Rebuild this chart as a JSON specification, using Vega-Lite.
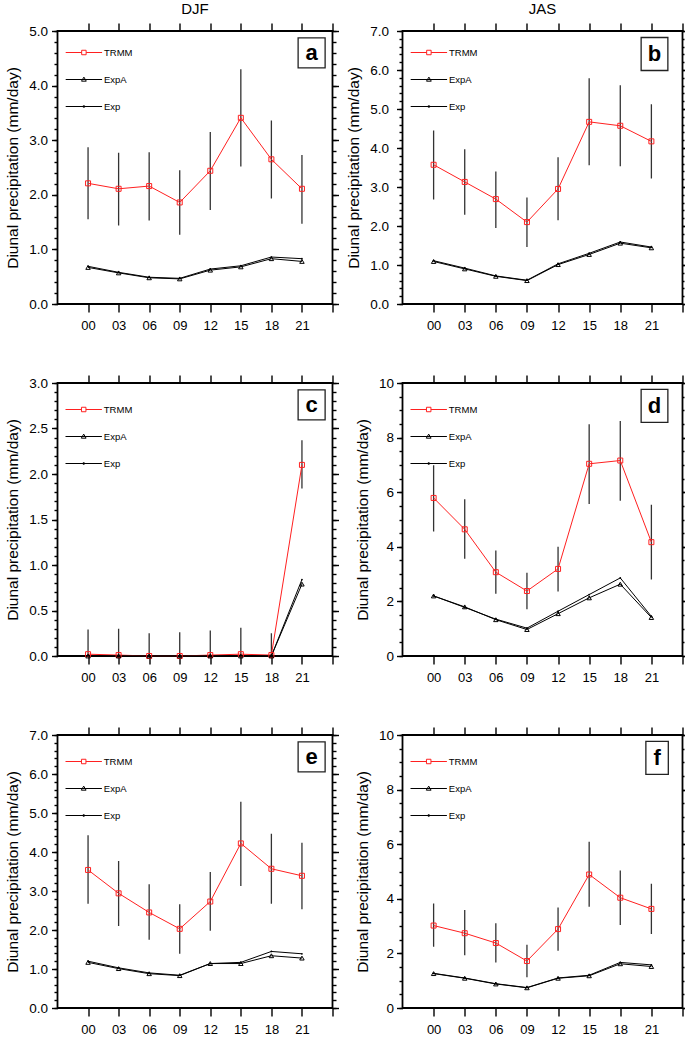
{
"$schema":"https://vega.github.io/schema/vega-lite/v6.json",
"padding":{"left":4.5,"top":1,"right":0,"bottom":0},
"datasets":{
"d":[
{"p":"a","s":"TRMM","h":0,"v":2.21,"lo":1.55,"hi":2.87},{"p":"a","s":"TRMM","h":3,"v":2.11,"lo":1.44,"hi":2.77},{"p":"a","s":"TRMM","h":6,"v":2.16,"lo":1.53,"hi":2.78},{"p":"a","s":"TRMM","h":9,"v":1.86,"lo":1.27,"hi":2.45},{"p":"a","s":"TRMM","h":12,"v":2.44,"lo":1.72,"hi":3.15},{"p":"a","s":"TRMM","h":15,"v":3.41,"lo":2.52,"hi":4.30},{"p":"a","s":"TRMM","h":18,"v":2.65,"lo":1.93,"hi":3.36},{"p":"a","s":"TRMM","h":21,"v":2.11,"lo":1.47,"hi":2.73},
{"p":"a","s":"ExpA","h":0,"v":0.67},{"p":"a","s":"ExpA","h":3,"v":0.57},{"p":"a","s":"ExpA","h":6,"v":0.48},{"p":"a","s":"ExpA","h":9,"v":0.46},{"p":"a","s":"ExpA","h":12,"v":0.62},{"p":"a","s":"ExpA","h":15,"v":0.68},{"p":"a","s":"ExpA","h":18,"v":0.83},{"p":"a","s":"ExpA","h":21,"v":0.78},
{"p":"a","s":"Exp","h":0,"v":0.69},{"p":"a","s":"Exp","h":3,"v":0.58},{"p":"a","s":"Exp","h":6,"v":0.49},{"p":"a","s":"Exp","h":9,"v":0.47},{"p":"a","s":"Exp","h":12,"v":0.64},{"p":"a","s":"Exp","h":15,"v":0.70},{"p":"a","s":"Exp","h":18,"v":0.86},{"p":"a","s":"Exp","h":21,"v":0.83},
{"p":"b","s":"TRMM","h":0,"v":3.57,"lo":2.68,"hi":4.45},{"p":"b","s":"TRMM","h":3,"v":3.13,"lo":2.29,"hi":3.97},{"p":"b","s":"TRMM","h":6,"v":2.69,"lo":1.95,"hi":3.40},{"p":"b","s":"TRMM","h":9,"v":2.10,"lo":1.46,"hi":2.73},{"p":"b","s":"TRMM","h":12,"v":2.95,"lo":2.15,"hi":3.76},{"p":"b","s":"TRMM","h":15,"v":4.67,"lo":3.56,"hi":5.79},{"p":"b","s":"TRMM","h":18,"v":4.57,"lo":3.53,"hi":5.61},{"p":"b","s":"TRMM","h":21,"v":4.17,"lo":3.22,"hi":5.12},
{"p":"b","s":"ExpA","h":0,"v":1.09},{"p":"b","s":"ExpA","h":3,"v":0.90},{"p":"b","s":"ExpA","h":6,"v":0.71},{"p":"b","s":"ExpA","h":9,"v":0.60},{"p":"b","s":"ExpA","h":12,"v":1.01},{"p":"b","s":"ExpA","h":15,"v":1.27},{"p":"b","s":"ExpA","h":18,"v":1.56},{"p":"b","s":"ExpA","h":21,"v":1.44},
{"p":"b","s":"Exp","h":0,"v":1.11},{"p":"b","s":"Exp","h":3,"v":0.92},{"p":"b","s":"Exp","h":6,"v":0.72},{"p":"b","s":"Exp","h":9,"v":0.61},{"p":"b","s":"Exp","h":12,"v":1.03},{"p":"b","s":"Exp","h":15,"v":1.30},{"p":"b","s":"Exp","h":18,"v":1.59},{"p":"b","s":"Exp","h":21,"v":1.46},
{"p":"c","s":"TRMM","h":0,"v":0.02,"lo":-0.26,"hi":0.29},{"p":"c","s":"TRMM","h":3,"v":0.01,"lo":-0.28,"hi":0.30},{"p":"c","s":"TRMM","h":6,"v":0.0,"lo":-0.25,"hi":0.25},{"p":"c","s":"TRMM","h":9,"v":0.0,"lo":-0.26,"hi":0.26},{"p":"c","s":"TRMM","h":12,"v":0.01,"lo":-0.26,"hi":0.28},{"p":"c","s":"TRMM","h":15,"v":0.02,"lo":-0.27,"hi":0.31},{"p":"c","s":"TRMM","h":18,"v":0.01,"lo":-0.23,"hi":0.25},{"p":"c","s":"TRMM","h":21,"v":2.10,"lo":1.84,"hi":2.37},
{"p":"c","s":"ExpA","h":0,"v":0.0},{"p":"c","s":"ExpA","h":3,"v":0.0},{"p":"c","s":"ExpA","h":6,"v":0.0},{"p":"c","s":"ExpA","h":9,"v":0.0},{"p":"c","s":"ExpA","h":12,"v":0.0},{"p":"c","s":"ExpA","h":15,"v":0.0},{"p":"c","s":"ExpA","h":18,"v":0.0},{"p":"c","s":"ExpA","h":21,"v":0.79},
{"p":"c","s":"Exp","h":0,"v":0.0},{"p":"c","s":"Exp","h":3,"v":0.0},{"p":"c","s":"Exp","h":6,"v":0.0},{"p":"c","s":"Exp","h":9,"v":0.0},{"p":"c","s":"Exp","h":12,"v":0.0},{"p":"c","s":"Exp","h":15,"v":0.0},{"p":"c","s":"Exp","h":18,"v":0.0},{"p":"c","s":"Exp","h":21,"v":0.84},
{"p":"d","s":"TRMM","h":0,"v":5.79,"lo":4.56,"hi":6.99},{"p":"d","s":"TRMM","h":3,"v":4.64,"lo":3.56,"hi":5.74},{"p":"d","s":"TRMM","h":6,"v":3.07,"lo":2.28,"hi":3.86},{"p":"d","s":"TRMM","h":9,"v":2.38,"lo":1.71,"hi":3.05},{"p":"d","s":"TRMM","h":12,"v":3.19,"lo":2.36,"hi":4.00},{"p":"d","s":"TRMM","h":15,"v":7.04,"lo":5.57,"hi":8.49},{"p":"d","s":"TRMM","h":18,"v":7.16,"lo":5.69,"hi":8.61},{"p":"d","s":"TRMM","h":21,"v":4.17,"lo":2.80,"hi":5.54},
{"p":"d","s":"ExpA","h":0,"v":2.20},{"p":"d","s":"ExpA","h":3,"v":1.80},{"p":"d","s":"ExpA","h":6,"v":1.33},{"p":"d","s":"ExpA","h":9,"v":0.97},{"p":"d","s":"ExpA","h":12,"v":1.55},{"p":"d","s":"ExpA","h":15,"v":2.13},{"p":"d","s":"ExpA","h":18,"v":2.63},{"p":"d","s":"ExpA","h":21,"v":1.41},
{"p":"d","s":"Exp","h":0,"v":2.20},{"p":"d","s":"Exp","h":3,"v":1.78},{"p":"d","s":"Exp","h":6,"v":1.35},{"p":"d","s":"Exp","h":9,"v":1.02},{"p":"d","s":"Exp","h":12,"v":1.64},{"p":"d","s":"Exp","h":15,"v":2.25},{"p":"d","s":"Exp","h":18,"v":2.86},{"p":"d","s":"Exp","h":21,"v":1.45},
{"p":"e","s":"TRMM","h":0,"v":3.54,"lo":2.67,"hi":4.43},{"p":"e","s":"TRMM","h":3,"v":2.94,"lo":2.10,"hi":3.77},{"p":"e","s":"TRMM","h":6,"v":2.45,"lo":1.75,"hi":3.17},{"p":"e","s":"TRMM","h":9,"v":2.03,"lo":1.39,"hi":2.66},{"p":"e","s":"TRMM","h":12,"v":2.73,"lo":1.98,"hi":3.49},{"p":"e","s":"TRMM","h":15,"v":4.22,"lo":3.13,"hi":5.29},{"p":"e","s":"TRMM","h":18,"v":3.57,"lo":2.67,"hi":4.47},{"p":"e","s":"TRMM","h":21,"v":3.39,"lo":2.53,"hi":4.24},
{"p":"e","s":"ExpA","h":0,"v":1.17},{"p":"e","s":"ExpA","h":3,"v":1.01},{"p":"e","s":"ExpA","h":6,"v":0.88},{"p":"e","s":"ExpA","h":9,"v":0.83},{"p":"e","s":"ExpA","h":12,"v":1.14},{"p":"e","s":"ExpA","h":15,"v":1.14},{"p":"e","s":"ExpA","h":18,"v":1.34},{"p":"e","s":"ExpA","h":21,"v":1.28},
{"p":"e","s":"Exp","h":0,"v":1.20},{"p":"e","s":"Exp","h":3,"v":1.03},{"p":"e","s":"Exp","h":6,"v":0.90},{"p":"e","s":"Exp","h":9,"v":0.84},{"p":"e","s":"Exp","h":12,"v":1.14},{"p":"e","s":"Exp","h":15,"v":1.17},{"p":"e","s":"Exp","h":18,"v":1.45},{"p":"e","s":"Exp","h":21,"v":1.39},
{"p":"f","s":"TRMM","h":0,"v":3.02,"lo":2.24,"hi":3.83},{"p":"f","s":"TRMM","h":3,"v":2.74,"lo":1.93,"hi":3.59},{"p":"f","s":"TRMM","h":6,"v":2.38,"lo":1.67,"hi":3.10},{"p":"f","s":"TRMM","h":9,"v":1.72,"lo":1.13,"hi":2.32},{"p":"f","s":"TRMM","h":12,"v":2.89,"lo":2.10,"hi":3.68},{"p":"f","s":"TRMM","h":15,"v":4.89,"lo":3.71,"hi":6.09},{"p":"f","s":"TRMM","h":18,"v":4.04,"lo":3.04,"hi":5.04},{"p":"f","s":"TRMM","h":21,"v":3.63,"lo":2.71,"hi":4.55},
{"p":"f","s":"ExpA","h":0,"v":1.26},{"p":"f","s":"ExpA","h":3,"v":1.09},{"p":"f","s":"ExpA","h":6,"v":0.88},{"p":"f","s":"ExpA","h":9,"v":0.74},{"p":"f","s":"ExpA","h":12,"v":1.09},{"p":"f","s":"ExpA","h":15,"v":1.18},{"p":"f","s":"ExpA","h":18,"v":1.62},{"p":"f","s":"ExpA","h":21,"v":1.52},
{"p":"f","s":"Exp","h":0,"v":1.27},{"p":"f","s":"Exp","h":3,"v":1.10},{"p":"f","s":"Exp","h":6,"v":0.89},{"p":"f","s":"Exp","h":9,"v":0.75},{"p":"f","s":"Exp","h":12,"v":1.10},{"p":"f","s":"Exp","h":15,"v":1.20},{"p":"f","s":"Exp","h":18,"v":1.67},{"p":"f","s":"Exp","h":21,"v":1.58}
],
"lab":[{"p":"a","lab":"a"},{"p":"b","lab":"b"},{"p":"c","lab":"c"},{"p":"d","lab":"d"},{"p":"e","lab":"e"},{"p":"f","lab":"f"}]
},
"columns":2,
"spacing":{"row":79,"column":70},
"bounds":"flush",
"align":"each",
"concat":[
{
"width":275,"height":273,
"title":{"text":"DJF","fontSize":15,"fontWeight":"normal","offset":5},
"layer":[
{"data":{"name":"d"},"transform":[{"filter":"datum.p == 'a' && datum.s == 'TRMM'"}],
 "mark":{"type":"rule","color":"#333333","strokeWidth":1.3,"clip":true},
 "encoding":{
  "x":{"field":"h","type":"quantitative","scale":{"domain":[-3,24],"nice":false,"zero":false},"axis":{"orient":"bottom","values":[0,3,6,9,12,15,18,21,24],"labelExpr":"datum.value < 24 ? (datum.value < 10 ? '0' + datum.value : '' + datum.value) : ''","tickSize":8,"labelPadding":7,"labelFontSize":13,"title":null}},
  "y":{"field":"lo","type":"quantitative","scale":{"domain":[0,5],"nice":false,"zero":false},"axis":{"orient":"left","values":[0,1,2,3,4,5],"format":".1f","labelPadding":4,"title":"Diunal precipitation (mm/day)"}},
  "y2":{"field":"hi"}}},
{"data":{"name":"d"},"transform":[{"filter":"datum.p == 'a'"}],
 "mark":{"type":"line","strokeWidth":1},
 "encoding":{
  "x":{"field":"h","type":"quantitative","axis":{"orient":"top","values":[0,3,6,9,12,15,18,21,24],"labels":false,"tickSize":8,"title":null}},
  "y":{"field":"v","type":"quantitative","axis":{"orient":"left","values":[0,0.2,0.4,0.6,0.8,1,1.2,1.4,1.6,1.8,2,2.2,2.4,2.6,2.8,3,3.2,3.4,3.6,3.8,4,4.2,4.4,4.6,4.8,5],"labels":false,"tickSize":3.5,"title":null}},
  "color":{"field":"s","type":"nominal","scale":{"domain":["TRMM","ExpA","Exp"],"range":["#ff2020","#000000","#000000"]},"legend":{"title":null,"offset":6.8,"symbolOffset":4.9,"symbolSize":784,"rowPadding":8,"labelOffset":5.6,"encode":{"symbols":{"update":{"size":{"value":784},"shape":{"signal":"datum.value == 'TRMM' ? 'M-1.3,0H-0.16M0.16,0H1.3M-0.16,-0.16H0.16V0.16H-0.16Z' : (datum.value == 'ExpA' ? 'M-1.3,0H1.3M0,-0.17L0.17,0.12H-0.17Z' : 'M-1.3,0H1.3M-0.05,-0.05H0.05V0.05H-0.05Z')"},"fill":{"value":"transparent"},"strokeWidth":{"value":1}}}}}}}},
{"data":{"name":"d"},"transform":[{"filter":"datum.p == 'a' && datum.s == 'TRMM'"}],
 "mark":{"type":"point","shape":"square","filled":false,"color":"#ff2020","size":25,"strokeWidth":1,"opacity":1},
 "encoding":{"x":{"field":"h","type":"quantitative","axis":null},"y":{"field":"v","type":"quantitative","axis":{"orient":"right","values":[0,1,2,3,4,5],"labels":false,"tickSize":6,"title":null}}}},
{"data":{"name":"d"},"transform":[{"filter":"datum.p == 'a' && datum.s == 'ExpA'"}],
 "mark":{"type":"point","shape":"triangle-up","filled":false,"color":"#000000","size":20,"strokeWidth":1,"opacity":1},
 "encoding":{"x":{"field":"h","type":"quantitative","axis":null},"y":{"field":"v","type":"quantitative","axis":{"orient":"right","values":[0,0.2,0.4,0.6,0.8,1,1.2,1.4,1.6,1.8,2,2.2,2.4,2.6,2.8,3,3.2,3.4,3.6,3.8,4,4.2,4.4,4.6,4.8,5],"labels":false,"tickSize":3.5,"title":null}}}},
{"data":{"name":"d"},"transform":[{"filter":"datum.p == 'a' && datum.s == 'Exp'"}],
 "mark":{"type":"point","shape":"circle","filled":true,"color":"#000000","size":3,"opacity":1},
 "encoding":{"x":{"field":"h","type":"quantitative","axis":null},"y":{"field":"v","type":"quantitative","axis":null}}},
{"data":{"name":"lab"},"transform":[{"filter":"datum.p == 'a'"}],
 "mark":{"type":"point","shape":"M-0.9,-1H0.9V1H-0.9Z","filled":false,"color":"#222222","strokeWidth":1.3,"size":900,"opacity":1},
 "encoding":{"x":{"datum":21.95,"type":"quantitative","axis":null},"y":{"datum":4.6,"type":"quantitative","axis":null}}},
{"data":{"name":"lab"},"transform":[{"filter":"datum.p == 'a'"}],
 "mark":{"type":"text","fontSize":22,"fontWeight":"bold","baseline":"middle","align":"center","color":"#000000"},
 "encoding":{"text":{"field":"lab"},"x":{"datum":21.95,"type":"quantitative","axis":null},"y":{"datum":4.6,"type":"quantitative","axis":null}}}
],
"resolve":{"axis":{"x":"independent","y":"independent"}}
},
{
"width":280,"height":273,
"title":{"text":"JAS","fontSize":15,"fontWeight":"normal","offset":5},
"layer":[
{"data":{"name":"d"},"transform":[{"filter":"datum.p == 'b' && datum.s == 'TRMM'"}],
 "mark":{"type":"rule","color":"#333333","strokeWidth":1.3,"clip":true},
 "encoding":{
  "x":{"field":"h","type":"quantitative","scale":{"domain":[-3,24],"nice":false,"zero":false},"axis":{"orient":"bottom","values":[0,3,6,9,12,15,18,21,24],"labelExpr":"datum.value < 24 ? (datum.value < 10 ? '0' + datum.value : '' + datum.value) : ''","tickSize":8,"labelPadding":7,"labelFontSize":13,"title":null}},
  "y":{"field":"lo","type":"quantitative","scale":{"domain":[0,7],"nice":false,"zero":false},"axis":{"orient":"left","values":[0,1,2,3,4,5,6,7],"format":".1f","labelPadding":8,"title":"Diunal precipitation (mm/day)"}},
  "y2":{"field":"hi"}}},
{"data":{"name":"d"},"transform":[{"filter":"datum.p == 'b'"}],
 "mark":{"type":"line","strokeWidth":1},
 "encoding":{
  "x":{"field":"h","type":"quantitative","axis":{"orient":"top","values":[0,3,6,9,12,15,18,21,24],"labels":false,"tickSize":8,"title":null}},
  "y":{"field":"v","type":"quantitative","axis":{"orient":"left","values":[0,0.2,0.4,0.6,0.8,1,1.2,1.4,1.6,1.8,2,2.2,2.4,2.6,2.8,3,3.2,3.4,3.6,3.8,4,4.2,4.4,4.6,4.8,5,5.2,5.4,5.6,5.8,6,6.2,6.4,6.6,6.8,7],"labels":false,"tickSize":3.5,"title":null}},
  "color":{"field":"s","type":"nominal","scale":{"domain":["TRMM","ExpA","Exp"],"range":["#ff2020","#000000","#000000"]},"legend":{"title":null,"offset":6.8,"symbolOffset":4.9,"symbolSize":784,"rowPadding":8,"labelOffset":5.6,"encode":{"symbols":{"update":{"size":{"value":784},"shape":{"signal":"datum.value == 'TRMM' ? 'M-1.3,0H-0.16M0.16,0H1.3M-0.16,-0.16H0.16V0.16H-0.16Z' : (datum.value == 'ExpA' ? 'M-1.3,0H1.3M0,-0.17L0.17,0.12H-0.17Z' : 'M-1.3,0H1.3M-0.05,-0.05H0.05V0.05H-0.05Z')"},"fill":{"value":"transparent"},"strokeWidth":{"value":1}}}}}}}},
{"data":{"name":"d"},"transform":[{"filter":"datum.p == 'b' && datum.s == 'TRMM'"}],
 "mark":{"type":"point","shape":"square","filled":false,"color":"#ff2020","size":25,"strokeWidth":1,"opacity":1},
 "encoding":{"x":{"field":"h","type":"quantitative","axis":null},"y":{"field":"v","type":"quantitative","axis":{"orient":"right","values":[0,1,2,3,4,5,6,7],"labels":false,"tickSize":2,"title":null}}}},
{"data":{"name":"d"},"transform":[{"filter":"datum.p == 'b' && datum.s == 'ExpA'"}],
 "mark":{"type":"point","shape":"triangle-up","filled":false,"color":"#000000","size":20,"strokeWidth":1,"opacity":1},
 "encoding":{"x":{"field":"h","type":"quantitative","axis":null},"y":{"field":"v","type":"quantitative","axis":{"orient":"right","values":[0,0.2,0.4,0.6,0.8,1,1.2,1.4,1.6,1.8,2,2.2,2.4,2.6,2.8,3,3.2,3.4,3.6,3.8,4,4.2,4.4,4.6,4.8,5,5.2,5.4,5.6,5.8,6,6.2,6.4,6.6,6.8,7],"labels":false,"tickSize":1.5,"title":null}}}},
{"data":{"name":"d"},"transform":[{"filter":"datum.p == 'b' && datum.s == 'Exp'"}],
 "mark":{"type":"point","shape":"circle","filled":true,"color":"#000000","size":3,"opacity":1},
 "encoding":{"x":{"field":"h","type":"quantitative","axis":null},"y":{"field":"v","type":"quantitative","axis":null}}},
{"data":{"name":"lab"},"transform":[{"filter":"datum.p == 'b'"}],
 "mark":{"type":"point","shape":"M-0.81,-1H0.81V1H-0.81Z","filled":false,"color":"#222222","strokeWidth":1.3,"size":1089,"opacity":1},
 "encoding":{"x":{"datum":21.3,"type":"quantitative","axis":null},"y":{"datum":6.41,"type":"quantitative","axis":null}}},
{"data":{"name":"lab"},"transform":[{"filter":"datum.p == 'b'"}],
 "mark":{"type":"text","fontSize":22,"fontWeight":"bold","baseline":"middle","align":"center","color":"#000000"},
 "encoding":{"text":{"field":"lab"},"x":{"datum":21.3,"type":"quantitative","axis":null},"y":{"datum":6.41,"type":"quantitative","axis":null}}}
],
"resolve":{"axis":{"x":"independent","y":"independent"}}
},
{
"width":275,"height":273,
"layer":[
{"data":{"name":"d"},"transform":[{"filter":"datum.p == 'c' && datum.s == 'TRMM'"}],
 "mark":{"type":"rule","color":"#333333","strokeWidth":1.3,"clip":true},
 "encoding":{
  "x":{"field":"h","type":"quantitative","scale":{"domain":[-3,24],"nice":false,"zero":false},"axis":{"orient":"bottom","values":[0,3,6,9,12,15,18,21,24],"labelExpr":"datum.value < 24 ? (datum.value < 10 ? '0' + datum.value : '' + datum.value) : ''","tickSize":8,"labelPadding":7,"labelFontSize":13,"title":null}},
  "y":{"field":"lo","type":"quantitative","scale":{"domain":[0,3],"nice":false,"zero":false},"axis":{"orient":"left","values":[0,0.5,1,1.5,2,2.5,3],"format":".1f","labelPadding":4,"title":"Diunal precipitation (mm/day)"}},
  "y2":{"field":"hi"}}},
{"data":{"name":"d"},"transform":[{"filter":"datum.p == 'c'"}],
 "mark":{"type":"line","strokeWidth":1},
 "encoding":{
  "x":{"field":"h","type":"quantitative","axis":{"orient":"top","values":[0,3,6,9,12,15,18,21,24],"labels":false,"tickSize":8,"title":null}},
  "y":{"field":"v","type":"quantitative","axis":{"orient":"left","values":[0,0.1,0.2,0.3,0.4,0.5,0.6,0.7,0.8,0.9,1,1.1,1.2,1.3,1.4,1.5,1.6,1.7,1.8,1.9,2,2.1,2.2,2.3,2.4,2.5,2.6,2.7,2.8,2.9,3],"labels":false,"tickSize":3.5,"title":null}},
  "color":{"field":"s","type":"nominal","scale":{"domain":["TRMM","ExpA","Exp"],"range":["#ff2020","#000000","#000000"]},"legend":{"title":null,"offset":12,"symbolOffset":-0.3,"symbolSize":784,"rowPadding":8,"labelOffset":5.6,"encode":{"symbols":{"update":{"size":{"value":784},"shape":{"signal":"datum.value == 'TRMM' ? 'M-1.3,0H-0.16M0.16,0H1.3M-0.16,-0.16H0.16V0.16H-0.16Z' : (datum.value == 'ExpA' ? 'M-1.3,0H1.3M0,-0.17L0.17,0.12H-0.17Z' : 'M-1.3,0H1.3M-0.05,-0.05H0.05V0.05H-0.05Z')"},"fill":{"value":"transparent"},"strokeWidth":{"value":1}}}}}}}},
{"data":{"name":"d"},"transform":[{"filter":"datum.p == 'c' && datum.s == 'TRMM'"}],
 "mark":{"type":"point","shape":"square","filled":false,"color":"#ff2020","size":25,"strokeWidth":1,"opacity":1},
 "encoding":{"x":{"field":"h","type":"quantitative","axis":null},"y":{"field":"v","type":"quantitative","axis":{"orient":"right","values":[0,0.5,1,1.5,2,2.5,3],"labels":false,"tickSize":6,"title":null}}}},
{"data":{"name":"d"},"transform":[{"filter":"datum.p == 'c' && datum.s == 'ExpA'"}],
 "mark":{"type":"point","shape":"triangle-up","filled":false,"color":"#000000","size":20,"strokeWidth":1,"opacity":1},
 "encoding":{"x":{"field":"h","type":"quantitative","axis":null},"y":{"field":"v","type":"quantitative","axis":{"orient":"right","values":[0,0.1,0.2,0.3,0.4,0.5,0.6,0.7,0.8,0.9,1,1.1,1.2,1.3,1.4,1.5,1.6,1.7,1.8,1.9,2,2.1,2.2,2.3,2.4,2.5,2.6,2.7,2.8,2.9,3],"labels":false,"tickSize":3.5,"title":null}}}},
{"data":{"name":"d"},"transform":[{"filter":"datum.p == 'c' && datum.s == 'Exp'"}],
 "mark":{"type":"point","shape":"circle","filled":true,"color":"#000000","size":3,"opacity":1},
 "encoding":{"x":{"field":"h","type":"quantitative","axis":null},"y":{"field":"v","type":"quantitative","axis":null}}},
{"data":{"name":"lab"},"transform":[{"filter":"datum.p == 'c'"}],
 "mark":{"type":"point","shape":"M-0.9,-1H0.9V1H-0.9Z","filled":false,"color":"#222222","strokeWidth":1.3,"size":900,"opacity":1},
 "encoding":{"x":{"datum":21.95,"type":"quantitative","axis":null},"y":{"datum":2.76,"type":"quantitative","axis":null}}},
{"data":{"name":"lab"},"transform":[{"filter":"datum.p == 'c'"}],
 "mark":{"type":"text","fontSize":22,"fontWeight":"bold","baseline":"middle","align":"center","color":"#000000"},
 "encoding":{"text":{"field":"lab"},"x":{"datum":21.95,"type":"quantitative","axis":null},"y":{"datum":2.76,"type":"quantitative","axis":null}}}
],
"resolve":{"axis":{"x":"independent","y":"independent"}}
},
{
"width":280,"height":273,
"layer":[
{"data":{"name":"d"},"transform":[{"filter":"datum.p == 'd' && datum.s == 'TRMM'"}],
 "mark":{"type":"rule","color":"#333333","strokeWidth":1.3,"clip":true},
 "encoding":{
  "x":{"field":"h","type":"quantitative","scale":{"domain":[-3,24],"nice":false,"zero":false},"axis":{"orient":"bottom","values":[0,3,6,9,12,15,18,21,24],"labelExpr":"datum.value < 24 ? (datum.value < 10 ? '0' + datum.value : '' + datum.value) : ''","tickSize":8,"labelPadding":7,"labelFontSize":13,"title":null}},
  "y":{"field":"lo","type":"quantitative","scale":{"domain":[0,10],"nice":false,"zero":false},"axis":{"orient":"left","values":[0,2,4,6,8,10],"format":"d","labelPadding":3,"title":"Diunal precipitation (mm/day)"}},
  "y2":{"field":"hi"}}},
{"data":{"name":"d"},"transform":[{"filter":"datum.p == 'd'"}],
 "mark":{"type":"line","strokeWidth":1},
 "encoding":{
  "x":{"field":"h","type":"quantitative","axis":{"orient":"top","values":[0,3,6,9,12,15,18,21,24],"labels":false,"tickSize":8,"title":null}},
  "y":{"field":"v","type":"quantitative","axis":{"orient":"left","values":[0,0.5,1,1.5,2,2.5,3,3.5,4,4.5,5,5.5,6,6.5,7,7.5,8,8.5,9,9.5,10],"labels":false,"tickSize":3.5,"title":null}},
  "color":{"field":"s","type":"nominal","scale":{"domain":["TRMM","ExpA","Exp"],"range":["#ff2020","#000000","#000000"]},"legend":{"title":null,"offset":12,"symbolOffset":-0.3,"symbolSize":784,"rowPadding":8,"labelOffset":5.6,"encode":{"symbols":{"update":{"size":{"value":784},"shape":{"signal":"datum.value == 'TRMM' ? 'M-1.3,0H-0.16M0.16,0H1.3M-0.16,-0.16H0.16V0.16H-0.16Z' : (datum.value == 'ExpA' ? 'M-1.3,0H1.3M0,-0.17L0.17,0.12H-0.17Z' : 'M-1.3,0H1.3M-0.05,-0.05H0.05V0.05H-0.05Z')"},"fill":{"value":"transparent"},"strokeWidth":{"value":1}}}}}}}},
{"data":{"name":"d"},"transform":[{"filter":"datum.p == 'd' && datum.s == 'TRMM'"}],
 "mark":{"type":"point","shape":"square","filled":false,"color":"#ff2020","size":25,"strokeWidth":1,"opacity":1},
 "encoding":{"x":{"field":"h","type":"quantitative","axis":null},"y":{"field":"v","type":"quantitative","axis":{"orient":"right","values":[0,2,4,6,8,10],"labels":false,"tickSize":2,"title":null}}}},
{"data":{"name":"d"},"transform":[{"filter":"datum.p == 'd' && datum.s == 'ExpA'"}],
 "mark":{"type":"point","shape":"triangle-up","filled":false,"color":"#000000","size":20,"strokeWidth":1,"opacity":1},
 "encoding":{"x":{"field":"h","type":"quantitative","axis":null},"y":{"field":"v","type":"quantitative","axis":{"orient":"right","values":[0,0.5,1,1.5,2,2.5,3,3.5,4,4.5,5,5.5,6,6.5,7,7.5,8,8.5,9,9.5,10],"labels":false,"tickSize":1.5,"title":null}}}},
{"data":{"name":"d"},"transform":[{"filter":"datum.p == 'd' && datum.s == 'Exp'"}],
 "mark":{"type":"point","shape":"circle","filled":true,"color":"#000000","size":3,"opacity":1},
 "encoding":{"x":{"field":"h","type":"quantitative","axis":null},"y":{"field":"v","type":"quantitative","axis":null}}},
{"data":{"name":"lab"},"transform":[{"filter":"datum.p == 'd'"}],
 "mark":{"type":"point","shape":"M-0.81,-1H0.81V1H-0.81Z","filled":false,"color":"#222222","strokeWidth":1.3,"size":1089,"opacity":1},
 "encoding":{"x":{"datum":21.3,"type":"quantitative","axis":null},"y":{"datum":9.16,"type":"quantitative","axis":null}}},
{"data":{"name":"lab"},"transform":[{"filter":"datum.p == 'd'"}],
 "mark":{"type":"text","fontSize":22,"fontWeight":"bold","baseline":"middle","align":"center","color":"#000000"},
 "encoding":{"text":{"field":"lab"},"x":{"datum":21.3,"type":"quantitative","axis":null},"y":{"datum":9.16,"type":"quantitative","axis":null}}}
],
"resolve":{"axis":{"x":"independent","y":"independent"}}
},
{
"width":275,"height":273,
"layer":[
{"data":{"name":"d"},"transform":[{"filter":"datum.p == 'e' && datum.s == 'TRMM'"}],
 "mark":{"type":"rule","color":"#333333","strokeWidth":1.3,"clip":true},
 "encoding":{
  "x":{"field":"h","type":"quantitative","scale":{"domain":[-3,24],"nice":false,"zero":false},"axis":{"orient":"bottom","values":[0,3,6,9,12,15,18,21,24],"labelExpr":"datum.value < 24 ? (datum.value < 10 ? '0' + datum.value : '' + datum.value) : ''","tickSize":8,"labelPadding":7,"labelFontSize":13,"title":null}},
  "y":{"field":"lo","type":"quantitative","scale":{"domain":[0,7],"nice":false,"zero":false},"axis":{"orient":"left","values":[0,1,2,3,4,5,6,7],"format":".1f","labelPadding":4,"title":"Diunal precipitation (mm/day)"}},
  "y2":{"field":"hi"}}},
{"data":{"name":"d"},"transform":[{"filter":"datum.p == 'e'"}],
 "mark":{"type":"line","strokeWidth":1},
 "encoding":{
  "x":{"field":"h","type":"quantitative","axis":{"orient":"top","values":[0,3,6,9,12,15,18,21,24],"labels":false,"tickSize":8,"title":null}},
  "y":{"field":"v","type":"quantitative","axis":{"orient":"left","values":[0,0.2,0.4,0.6,0.8,1,1.2,1.4,1.6,1.8,2,2.2,2.4,2.6,2.8,3,3.2,3.4,3.6,3.8,4,4.2,4.4,4.6,4.8,5,5.2,5.4,5.6,5.8,6,6.2,6.4,6.6,6.8,7],"labels":false,"tickSize":3.5,"title":null}},
  "color":{"field":"s","type":"nominal","scale":{"domain":["TRMM","ExpA","Exp"],"range":["#ff2020","#000000","#000000"]},"legend":{"title":null,"offset":12,"symbolOffset":-0.3,"symbolSize":784,"rowPadding":8,"labelOffset":5.6,"encode":{"symbols":{"update":{"size":{"value":784},"shape":{"signal":"datum.value == 'TRMM' ? 'M-1.3,0H-0.16M0.16,0H1.3M-0.16,-0.16H0.16V0.16H-0.16Z' : (datum.value == 'ExpA' ? 'M-1.3,0H1.3M0,-0.17L0.17,0.12H-0.17Z' : 'M-1.3,0H1.3M-0.05,-0.05H0.05V0.05H-0.05Z')"},"fill":{"value":"transparent"},"strokeWidth":{"value":1}}}}}}}},
{"data":{"name":"d"},"transform":[{"filter":"datum.p == 'e' && datum.s == 'TRMM'"}],
 "mark":{"type":"point","shape":"square","filled":false,"color":"#ff2020","size":25,"strokeWidth":1,"opacity":1},
 "encoding":{"x":{"field":"h","type":"quantitative","axis":null},"y":{"field":"v","type":"quantitative","axis":{"orient":"right","values":[0,1,2,3,4,5,6,7],"labels":false,"tickSize":6,"title":null}}}},
{"data":{"name":"d"},"transform":[{"filter":"datum.p == 'e' && datum.s == 'ExpA'"}],
 "mark":{"type":"point","shape":"triangle-up","filled":false,"color":"#000000","size":20,"strokeWidth":1,"opacity":1},
 "encoding":{"x":{"field":"h","type":"quantitative","axis":null},"y":{"field":"v","type":"quantitative","axis":{"orient":"right","values":[0,0.2,0.4,0.6,0.8,1,1.2,1.4,1.6,1.8,2,2.2,2.4,2.6,2.8,3,3.2,3.4,3.6,3.8,4,4.2,4.4,4.6,4.8,5,5.2,5.4,5.6,5.8,6,6.2,6.4,6.6,6.8,7],"labels":false,"tickSize":3.5,"title":null}}}},
{"data":{"name":"d"},"transform":[{"filter":"datum.p == 'e' && datum.s == 'Exp'"}],
 "mark":{"type":"point","shape":"circle","filled":true,"color":"#000000","size":3,"opacity":1},
 "encoding":{"x":{"field":"h","type":"quantitative","axis":null},"y":{"field":"v","type":"quantitative","axis":null}}},
{"data":{"name":"lab"},"transform":[{"filter":"datum.p == 'e'"}],
 "mark":{"type":"point","shape":"M-0.9,-1H0.9V1H-0.9Z","filled":false,"color":"#222222","strokeWidth":1.3,"size":900,"opacity":1},
 "encoding":{"x":{"datum":21.95,"type":"quantitative","axis":null},"y":{"datum":6.44,"type":"quantitative","axis":null}}},
{"data":{"name":"lab"},"transform":[{"filter":"datum.p == 'e'"}],
 "mark":{"type":"text","fontSize":22,"fontWeight":"bold","baseline":"middle","align":"center","color":"#000000"},
 "encoding":{"text":{"field":"lab"},"x":{"datum":21.95,"type":"quantitative","axis":null},"y":{"datum":6.44,"type":"quantitative","axis":null}}}
],
"resolve":{"axis":{"x":"independent","y":"independent"}}
},
{
"width":280,"height":273,
"layer":[
{"data":{"name":"d"},"transform":[{"filter":"datum.p == 'f' && datum.s == 'TRMM'"}],
 "mark":{"type":"rule","color":"#333333","strokeWidth":1.3,"clip":true},
 "encoding":{
  "x":{"field":"h","type":"quantitative","scale":{"domain":[-3,24],"nice":false,"zero":false},"axis":{"orient":"bottom","values":[0,3,6,9,12,15,18,21,24],"labelExpr":"datum.value < 24 ? (datum.value < 10 ? '0' + datum.value : '' + datum.value) : ''","tickSize":8,"labelPadding":7,"labelFontSize":13,"title":null}},
  "y":{"field":"lo","type":"quantitative","scale":{"domain":[0,10],"nice":false,"zero":false},"axis":{"orient":"left","values":[0,2,4,6,8,10],"format":"d","labelPadding":3,"title":"Diunal precipitation (mm/day)"}},
  "y2":{"field":"hi"}}},
{"data":{"name":"d"},"transform":[{"filter":"datum.p == 'f'"}],
 "mark":{"type":"line","strokeWidth":1},
 "encoding":{
  "x":{"field":"h","type":"quantitative","axis":{"orient":"top","values":[0,3,6,9,12,15,18,21,24],"labels":false,"tickSize":8,"title":null}},
  "y":{"field":"v","type":"quantitative","axis":{"orient":"left","values":[0,0.5,1,1.5,2,2.5,3,3.5,4,4.5,5,5.5,6,6.5,7,7.5,8,8.5,9,9.5,10],"labels":false,"tickSize":3.5,"title":null}},
  "color":{"field":"s","type":"nominal","scale":{"domain":["TRMM","ExpA","Exp"],"range":["#ff2020","#000000","#000000"]},"legend":{"title":null,"offset":12,"symbolOffset":-0.3,"symbolSize":784,"rowPadding":8,"labelOffset":5.6,"encode":{"symbols":{"update":{"size":{"value":784},"shape":{"signal":"datum.value == 'TRMM' ? 'M-1.3,0H-0.16M0.16,0H1.3M-0.16,-0.16H0.16V0.16H-0.16Z' : (datum.value == 'ExpA' ? 'M-1.3,0H1.3M0,-0.17L0.17,0.12H-0.17Z' : 'M-1.3,0H1.3M-0.05,-0.05H0.05V0.05H-0.05Z')"},"fill":{"value":"transparent"},"strokeWidth":{"value":1}}}}}}}},
{"data":{"name":"d"},"transform":[{"filter":"datum.p == 'f' && datum.s == 'TRMM'"}],
 "mark":{"type":"point","shape":"square","filled":false,"color":"#ff2020","size":25,"strokeWidth":1,"opacity":1},
 "encoding":{"x":{"field":"h","type":"quantitative","axis":null},"y":{"field":"v","type":"quantitative","axis":{"orient":"right","values":[0,2,4,6,8,10],"labels":false,"tickSize":2,"title":null}}}},
{"data":{"name":"d"},"transform":[{"filter":"datum.p == 'f' && datum.s == 'ExpA'"}],
 "mark":{"type":"point","shape":"triangle-up","filled":false,"color":"#000000","size":20,"strokeWidth":1,"opacity":1},
 "encoding":{"x":{"field":"h","type":"quantitative","axis":null},"y":{"field":"v","type":"quantitative","axis":{"orient":"right","values":[0,0.5,1,1.5,2,2.5,3,3.5,4,4.5,5,5.5,6,6.5,7,7.5,8,8.5,9,9.5,10],"labels":false,"tickSize":1.5,"title":null}}}},
{"data":{"name":"d"},"transform":[{"filter":"datum.p == 'f' && datum.s == 'Exp'"}],
 "mark":{"type":"point","shape":"circle","filled":true,"color":"#000000","size":3,"opacity":1},
 "encoding":{"x":{"field":"h","type":"quantitative","axis":null},"y":{"field":"v","type":"quantitative","axis":null}}},
{"data":{"name":"lab"},"transform":[{"filter":"datum.p == 'f'"}],
 "mark":{"type":"point","shape":"M-0.68,-1H0.68V1H-0.68Z","filled":false,"color":"#222222","strokeWidth":1.3,"size":1089,"opacity":1},
 "encoding":{"x":{"datum":21.55,"type":"quantitative","axis":null},"y":{"datum":9.16,"type":"quantitative","axis":null}}},
{"data":{"name":"lab"},"transform":[{"filter":"datum.p == 'f'"}],
 "mark":{"type":"text","fontSize":22,"fontWeight":"bold","baseline":"middle","align":"center","color":"#000000"},
 "encoding":{"text":{"field":"lab"},"x":{"datum":21.55,"type":"quantitative","axis":null},"y":{"datum":9.16,"type":"quantitative","axis":null}}}
],
"resolve":{"axis":{"x":"independent","y":"independent"}}
}
],
"resolve":{"scale":{"color":"independent"},"legend":{"color":"independent"}},
"config":{
"font":"Liberation Sans",
"view":{"stroke":"#000000","strokeWidth":1.8},
"axis":{"domain":false,"grid":false,"ticks":true,"tickColor":"#000000","tickWidth":1.4,"tickSize":6,"labelFontSize":13.5,"labelColor":"#000000","titleFontSize":15.5,"titleFontWeight":"normal","titleColor":"#000000","titlePadding":8},
"legend":{"orient":"top-left","padding":0,"labelFontSize":9.5,"labelColor":"#000000","symbolSize":784,"symbolStrokeWidth":1,"labelOffset":5.6,"rowPadding":8,"symbolType":"stroke"},
"title":{"color":"#000000"}
}
}
